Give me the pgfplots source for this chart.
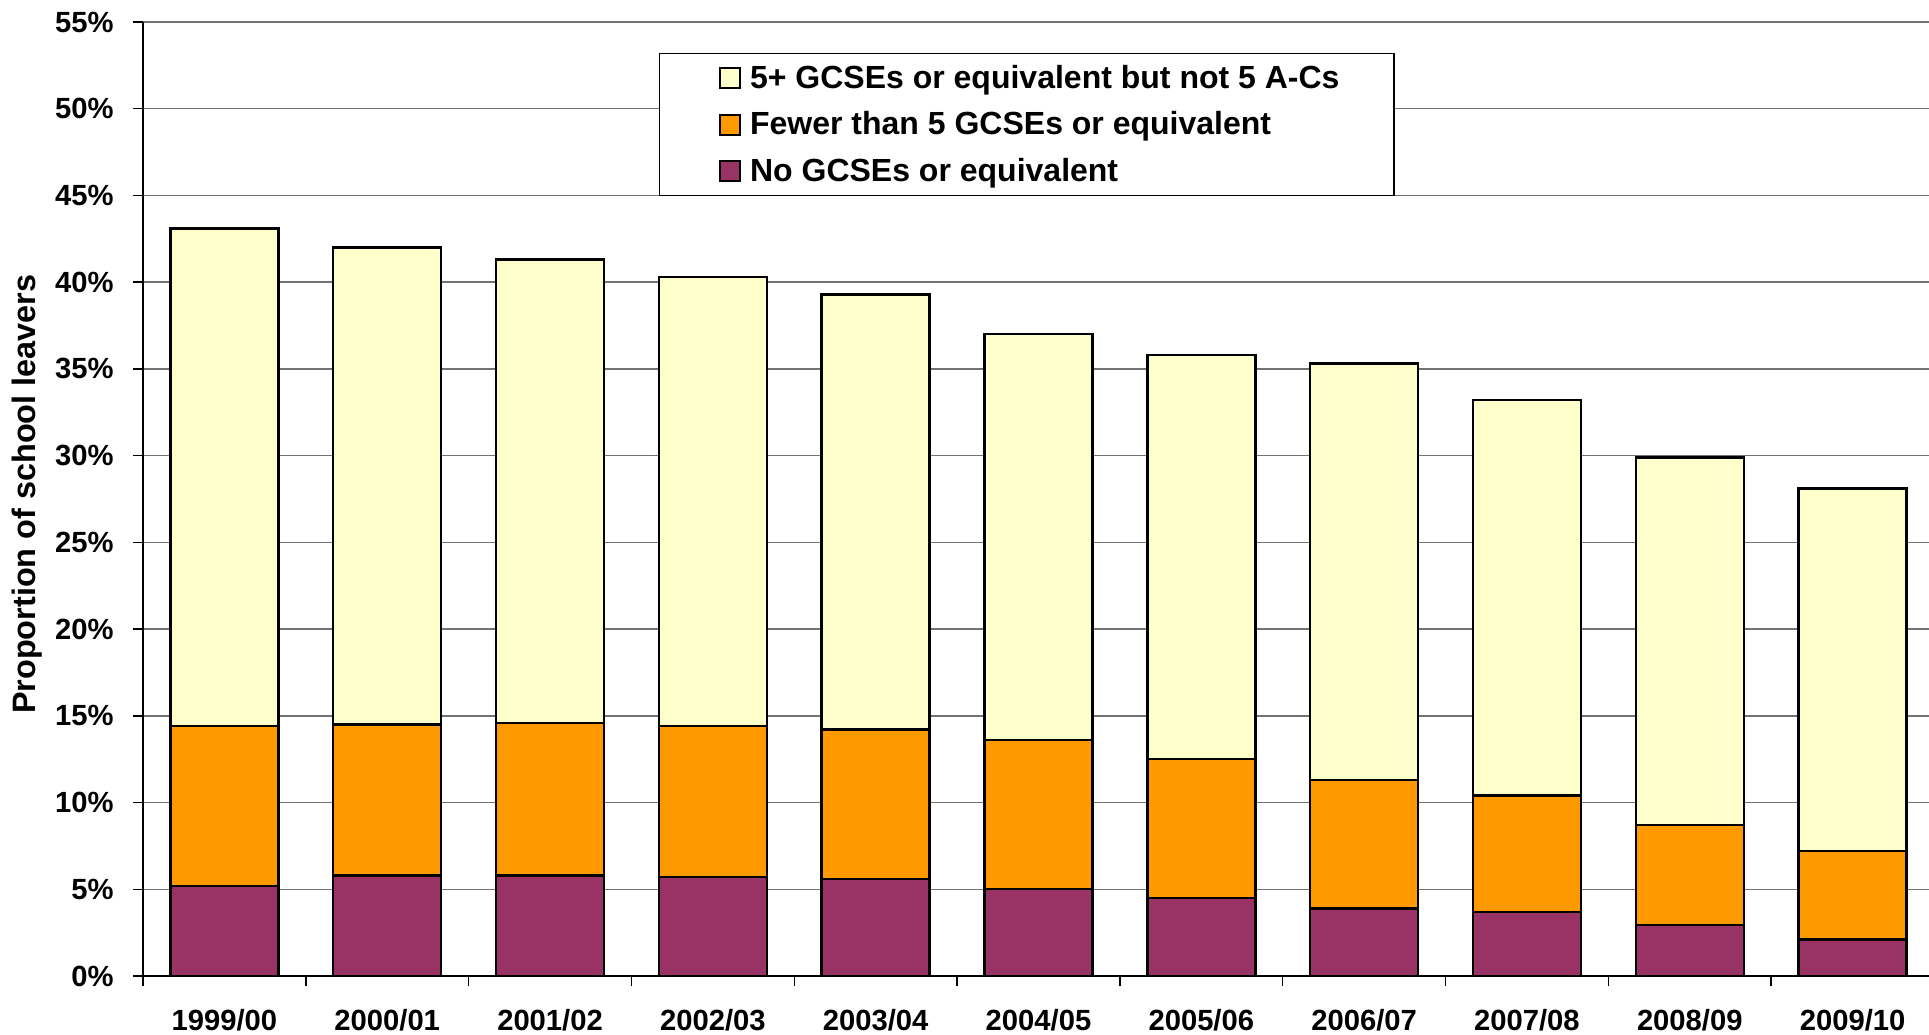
\documentclass[border=0pt]{standalone}
\usepackage{fontspec}
\setmainfont{Liberation Sans}
\usepackage{pgfplots}
\usepackage{pgfplotstable}
\pgfplotsset{compat=1.18}
\definecolor{cyel}{HTML}{FFFFCC}
\definecolor{cora}{HTML}{FF9900}
\definecolor{cpur}{HTML}{993366}
\pgfplotstableread{
x none fewer five
0  5.2  9.2  28.7
1  5.8  8.7  27.5
2  5.8  8.8  26.7
3  5.7  8.7  25.9
4  5.6  8.6  25.1
5  5.0  8.6  23.4
6  4.5  8.0  23.3
7  3.9  7.4  24.0
8  3.7  6.7  22.8
9  2.95 5.75 21.2
10 2.1  5.1  20.9
}\datatable
\begin{document}
\begin{tikzpicture}
\begin{axis}[
  scale only axis,
  width=447.75pt, height=238.5pt,
  xmin=-0.5, xmax=10.5, ymin=0, ymax=55,
  enlargelimits=false,
  axis x line=bottom, axis y line=left,
  axis line style={-, black, line width=0.35pt},
  ybar stacked, bar width=27pt,
  ytick={0,5,...,55},
  yticklabel={\pgfmathprintnumber{\tick}\%},
  /pgf/number format/assume math mode=true,
  tick align=outside,
  major tick length=2.5pt,
  tick style={black, line width=0.35pt},
  ymajorgrids, grid style={black!55, line width=0.35pt},
  xtick={-0.5,0.5,...,10.5},
  xticklabels={},
  extra x ticks={0,1,...,10},
  extra x tick labels={1999/00,2000/01,2001/02,2002/03,2003/04,2004/05,2005/06,2006/07,2007/08,2008/09,2009/10},
  extra x tick style={grid=none, major tick length=0pt,
    tick label style={anchor=center, yshift=-11pt}},
  every tick label/.append style={font=\fontsize{7.3}{8.5}\selectfont\bfseries},
  yticklabel style={xshift=-1.3pt},
  ylabel={Proportion of school leavers},
  ylabel style={at={(axis description cs:-0.0648,0.505)}, anchor=center, rotate=0,
    font=\fontsize{8.1}{9.5}\selectfont\bfseries},
  legend image code/.code={\path (-1.2pt,0pt); \draw[#1, draw=black, line width=0.5pt] (0pt,-2.5pt) rectangle (5pt,2.5pt);},
  reverse legend,
  legend style={at={(0.2881,0.9675)}, anchor=north west,
    draw=black, line width=0.35pt, fill=white,
    inner xsep=13.6pt, inner ysep=2pt,
    font=\fontsize{8}{9.5}\selectfont\bfseries,
    nodes={inner sep=0pt, text height=6.6pt, text depth=1.4pt},
    column sep=2.25pt, row sep=3.7pt},
  legend cell align=left,
]
\addplot[fill=cpur, draw=black, line width=0.6pt] table[x=x, y=none] {\datatable};
\addlegendentry{No GCSEs or equivalent}
\addplot[fill=cora, draw=black, line width=0.6pt] table[x=x, y=fewer] {\datatable};
\addlegendentry{Fewer than 5 GCSEs or equivalent}
\addplot[fill=cyel, draw=black, line width=0.6pt] table[x=x, y=five] {\datatable};
\addlegendentry{5+ GCSEs or equivalent but not 5 A-Cs}
\coordinate (O) at (rel axis cs:0,0);
\end{axis}
\pgfresetboundingbox
\path[use as bounding box] (O) ++(-35.75pt,-14.75pt) rectangle ++(482.25pt,258.75pt);
\end{tikzpicture}
\end{document}
